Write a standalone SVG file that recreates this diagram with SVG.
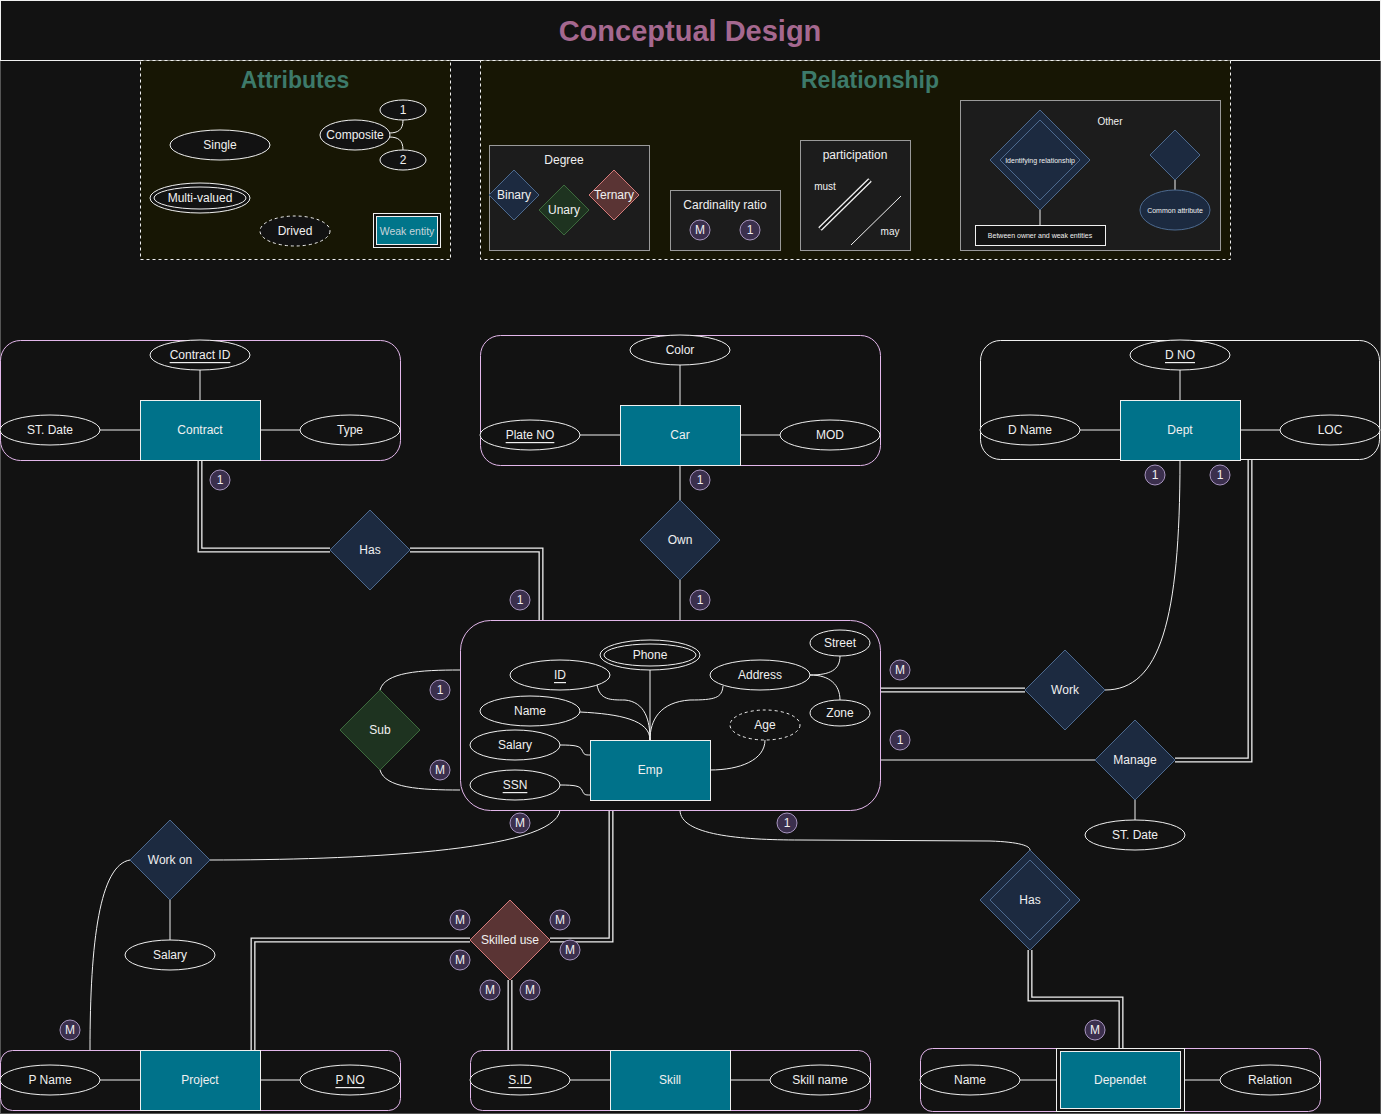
<svg xmlns="http://www.w3.org/2000/svg" width="1381" height="1114" viewBox="0 0 1381 1114">
<defs>
<style>
text{font-family:"Liberation Sans",Arial,sans-serif;font-size:12px;fill:#f0f0f0;text-anchor:middle;dominant-baseline:central}
.attr{fill:#121212;stroke:#f0f0f0;stroke-width:1}
.dash{stroke-dasharray:3 3}
.ent{fill:#00728a;stroke:#f0f0f0;stroke-width:1}
.cont{fill:none;stroke:#e2b6ea;stroke-width:1}
.rel{fill:#1c2a40;stroke:#4d6a8f;stroke-width:1}
.relg{fill:#1e3320;stroke:#3d6b3d;stroke-width:1}
.relr{fill:#5a3434;stroke:#d47a7a;stroke-width:1}
.ln{fill:none;stroke:#f0f0f0;stroke-width:1}
.dbo{fill:none;stroke:#f0f0f0;stroke-width:5}
.dbi{fill:none;stroke:#121212;stroke-width:2.4}
.badge circle{fill:#3b2f4d;stroke:#a895c0;stroke-width:1}
.u{text-decoration:underline}
.legbox{fill:#1c1c1c;stroke:#9a9a9a;stroke-width:1}
.sec{fill:#171604;stroke:#f0f0f0;stroke-width:1;stroke-dasharray:3 3}
.h2{font-size:23px;font-weight:bold;fill:#3d7a6a}
</style>
</defs>
<rect x="0" y="0" width="1381" height="1114" fill="#121212"/>
<rect x="0.5" y="0.5" width="1380" height="1113" fill="none" stroke="#555"/>
<g id="header">
<rect x="0.5" y="0.5" width="1380" height="60" fill="#121212" stroke="#f0f0f0"/>
<text x="690" y="31" style="font-size:29px;font-weight:bold;fill:#a5688f">Conceptual Design</text>
</g>

<g id="legend-attributes">
<rect class="sec" x="140.5" y="60.5" width="310" height="199"/>
<text class="h2" x="295" y="80">Attributes</text>
<ellipse class="attr" cx="220" cy="145" rx="50" ry="15"/><text x="220" y="145">Single</text>
<ellipse class="attr" cx="200" cy="198" rx="50" ry="15"/><ellipse class="attr" cx="200" cy="198" rx="46" ry="11"/><text x="200" y="198">Multi-valued</text>
<path class="ln" d="M389,133 C398,133 403,130 403,120"/>
<path class="ln" d="M389,137 C398,137 403,140 403,150"/>
<ellipse class="attr" cx="355" cy="135" rx="35" ry="15"/><text x="355" y="135">Composite</text>
<ellipse class="attr" cx="403" cy="110" rx="23" ry="10"/><text x="403" y="110">1</text>
<ellipse class="attr" cx="403" cy="160" rx="23" ry="10"/><text x="403" y="160">2</text>
<ellipse class="attr dash" cx="295" cy="231" rx="35" ry="15"/><text x="295" y="231">Drived</text>
<rect x="373.5" y="213.5" width="67" height="34" fill="#121212" stroke="#f0f0f0"/>
<rect x="376.5" y="216.5" width="61" height="28" fill="#00758a" stroke="#f0f0f0"/>
<text x="407" y="231" style="font-size:10.5px;fill:#c8d4da">Weak entity</text>
</g>

<g id="legend-relationship">
<rect class="sec" x="480.5" y="60.5" width="750" height="199"/>
<text class="h2" x="870" y="80">Relationship</text>
<rect class="legbox" x="489.5" y="145.5" width="160" height="105"/>
<text x="564" y="160">Degree</text>
<path class="rel" d="M514,170 L539,195 L514,220 L489,195 Z"/><text x="514" y="195">Binary</text>
<path class="relg" d="M564,185 L589,210 L564,235 L539,210 Z"/><text x="564" y="210">Unary</text>
<path class="relr" d="M614,170 L639,195 L614,220 L589,195 Z"/><text x="614" y="195">Ternary</text>
<rect class="legbox" x="670.5" y="190.5" width="110" height="60"/>
<text x="725" y="205">Cardinality ratio</text>
<g class="badge"><circle cx="700" cy="230" r="10"/><text x="700" y="230">M</text></g>
<g class="badge"><circle cx="750" cy="230" r="10"/><text x="750" y="230">1</text></g>
<rect class="legbox" x="800.5" y="140.5" width="110" height="110"/>
<text x="855" y="155">participation</text>
<text x="825" y="186" style="font-size:10px">must</text>
<path class="dbo" d="M820,229 L870,180"/><path class="dbi" d="M820,229 L870,180"/>
<path class="ln" d="M851,245 L901,196"/>
<text x="890" y="231" style="font-size:10px">may</text>
<rect class="legbox" x="960.5" y="100.5" width="260" height="150"/>
<text x="1110" y="121" style="font-size:10px">Other</text>
<path class="rel" d="M1040,110 L1090,160 L1040,210 L990,160 Z"/>
<path class="rel" d="M1040,120 L1080,160 L1040,200 L1000,160 Z"/>
<text x="1040" y="160" style="font-size:7px">Identifying relationship</text>
<path class="ln" d="M1040,210 V225"/>
<rect x="975.5" y="225.5" width="130" height="20" fill="#121212" stroke="#f0f0f0"/>
<text x="1040" y="235" style="font-size:7px">Between owner and weak entities</text>
<path class="rel" d="M1175,130 L1200,155 L1175,180 L1150,155 Z"/>
<path class="ln" d="M1175,180 V190"/>
<ellipse class="rel" cx="1175" cy="210" rx="35" ry="20"/>
<text x="1175" y="210" style="font-size:7px">Common attribute</text>
</g>

<g id="connectors">
<path class="dbo" d="M200,460 V550 H330"/><path class="dbi" d="M200,460 V550 H330"/>
<path class="dbo" d="M410,550 H541 V620"/><path class="dbi" d="M410,550 H541 V620"/>
<path class="ln" d="M680,465 V500 M680,580 V620"/>
<path class="ln" d="M380,690 C385,672 420,670 460,670"/>
<path class="ln" d="M380,770 C385,788 420,790 460,790"/>
<path class="dbo" d="M880,690 H1025"/><path class="dbi" d="M880,690 H1025"/>
<path class="ln" d="M1105,690 C1160,690 1180,620 1180,460"/>
<path class="ln" d="M880,760 H1095"/>
<path class="dbo" d="M1175,760 H1250 V460"/><path class="dbi" d="M1175,760 H1250 V460"/>
<path class="ln" d="M1135,800 V820"/>
<path class="ln" d="M680,810 C680,835 740,840 800,840 L990,841 C1020,842 1030,846 1030,850"/>
<path class="dbo" d="M1030,950 V999 H1121 V1048"/><path class="dbi" d="M1030,950 V999 H1121 V1048"/>
<path class="ln" d="M210,860 C350,860 555,852 560,810"/>
<path class="ln" d="M130,860 C100,865 90,940 90,1050"/>
<path class="ln" d="M170,900 V940"/>
<path class="dbo" d="M470,940 H253 V1050"/><path class="dbi" d="M470,940 H253 V1050"/>
<path class="dbo" d="M550,940 H611 V810"/><path class="dbi" d="M550,940 H611 V810"/>
<path class="dbo" d="M510,980 V1050"/><path class="dbi" d="M510,980 V1050"/>
</g>

<g id="contract">
<rect class="cont" x="0.5" y="340.5" width="400" height="120" rx="20"/>
<path class="ln" d="M200,370 V400 M100,430 H140 M260,430 H300"/>
<rect class="ent" x="140.5" y="400.5" width="120" height="60"/><text x="200" y="430">Contract</text>
<ellipse class="attr" cx="200" cy="355" rx="50" ry="15"/><text class="u" x="200" y="355">Contract ID</text>
<ellipse class="attr" cx="50" cy="430" rx="50" ry="15"/><text x="50" y="430">ST. Date</text>
<ellipse class="attr" cx="350" cy="430" rx="50" ry="15"/><text x="350" y="430">Type</text>
</g>

<g id="car">
<rect class="cont" x="480.5" y="335.5" width="400" height="130" rx="20"/>
<path class="ln" d="M680,365 V405 M580,435 H620 M740,435 H780"/>
<rect class="ent" x="620.5" y="405.5" width="120" height="60"/><text x="680" y="435">Car</text>
<ellipse class="attr" cx="680" cy="350" rx="50" ry="15"/><text x="680" y="350">Color</text>
<ellipse class="attr" cx="530" cy="435" rx="50" ry="15"/><text class="u" x="530" y="435">Plate NO</text>
<ellipse class="attr" cx="830" cy="435" rx="50" ry="15"/><text x="830" y="435">MOD</text>
</g>

<g id="dept">
<rect x="980.5" y="340.5" width="399" height="119" rx="20" fill="none" stroke="#f0f0f0"/>
<path class="ln" d="M1180,370 V400 M1080,430 H1120 M1240,430 H1280"/>
<rect class="ent" x="1120.5" y="400.5" width="120" height="60"/><text x="1180" y="430">Dept</text>
<ellipse class="attr" cx="1180" cy="355" rx="50" ry="15"/><text class="u" x="1180" y="355">D NO</text>
<ellipse class="attr" cx="1030" cy="430" rx="50" ry="15"/><text x="1030" y="430">D Name</text>
<ellipse class="attr" cx="1330" cy="430" rx="50" ry="15"/><text x="1330" y="430">LOC</text>
</g>

<g id="emp">
<rect class="cont" x="460.5" y="620.5" width="420" height="190" rx="30"/>
<path class="ln" d="M650,670 V740"/>
<path class="ln" d="M597,685 C600,700 610,700 625,700 C645,702 650,720 650,740"/>
<path class="ln" d="M580,712 C620,714 650,720 650,740"/>
<path class="ln" d="M723,686 C722,698 715,700 690,700 C660,702 650,720 650,740"/>
<path class="ln" d="M560,745 C575,745 580,746 582,750 C584,755 585,755 590,755"/>
<path class="ln" d="M560,785 C575,785 580,786 582,790 C584,795 585,795 590,795"/>
<path class="ln" d="M765,740 C765,760 740,770 710,770"/>
<path class="ln" d="M810,675 C830,675 840,670 840,656"/>
<path class="ln" d="M810,675 C830,675 840,685 840,700"/>
<rect class="ent" x="590.5" y="740.5" width="120" height="60"/><text x="650" y="770">Emp</text>
<ellipse class="attr" cx="650" cy="655" rx="50" ry="15"/><ellipse class="attr" cx="650" cy="655" rx="46" ry="11"/><text x="650" y="655">Phone</text>
<ellipse class="attr" cx="560" cy="675" rx="50" ry="15"/><text class="u" x="560" y="675">ID</text>
<ellipse class="attr" cx="530" cy="711" rx="50" ry="15"/><text x="530" y="711">Name</text>
<ellipse class="attr" cx="515" cy="745" rx="45" ry="15"/><text x="515" y="745">Salary</text>
<ellipse class="attr" cx="515" cy="785" rx="45" ry="15"/><text class="u" x="515" y="785">SSN</text>
<ellipse class="attr" cx="760" cy="675" rx="50" ry="15"/><text x="760" y="675">Address</text>
<ellipse class="attr" cx="840" cy="643" rx="30" ry="13"/><text x="840" y="643">Street</text>
<ellipse class="attr" cx="840" cy="713" rx="30" ry="13"/><text x="840" y="713">Zone</text>
<ellipse class="attr dash" cx="765" cy="725" rx="35" ry="15"/><text x="765" y="725">Age</text>
</g>

<g id="has-contract"><path class="rel" d="M370,510 L410,550 L370,590 L330,550 Z"/><text x="370" y="550">Has</text></g>
<g id="own"><path class="rel" d="M680,500 L720,540 L680,580 L640,540 Z"/><text x="680" y="540">Own</text></g>
<g id="sub"><path class="relg" d="M380,690 L420,730 L380,770 L340,730 Z"/><text x="380" y="730">Sub</text></g>
<g id="work"><path class="rel" d="M1065,650 L1105,690 L1065,730 L1025,690 Z"/><text x="1065" y="690">Work</text></g>
<g id="manage"><path class="rel" d="M1135,720 L1175,760 L1135,800 L1095,760 Z"/><text x="1135" y="760">Manage</text>
<ellipse class="attr" cx="1135" cy="835" rx="50" ry="15"/><text x="1135" y="835">ST. Date</text></g>
<g id="has-dependent">
<path class="rel" d="M1030,850 L1080,900 L1030,950 L980,900 Z"/>
<path class="rel" d="M1030,860 L1070,900 L1030,940 L990,900 Z"/>
<text x="1030" y="900">Has</text></g>
<g id="work-on"><path class="rel" d="M170,820 L210,860 L170,900 L130,860 Z"/><text x="170" y="860">Work on</text>
<ellipse class="attr" cx="170" cy="955" rx="45" ry="15"/><text x="170" y="955">Salary</text></g>
<g id="skilled-use"><path class="relr" d="M510,900 L550,940 L510,980 L470,940 Z"/><text x="510" y="940">Skilled use</text></g>

<g id="project">
<rect class="cont" x="0.5" y="1050.5" width="400" height="60" rx="12"/>
<path class="ln" d="M100,1080 H140 M260,1080 H300"/>
<rect class="ent" x="140.5" y="1050.5" width="120" height="60"/><text x="200" y="1080">Project</text>
<ellipse class="attr" cx="50" cy="1080" rx="50" ry="15"/><text x="50" y="1080">P Name</text>
<ellipse class="attr" cx="350" cy="1080" rx="50" ry="15"/><text class="u" x="350" y="1080">P NO</text>
</g>

<g id="skill">
<rect class="cont" x="470.5" y="1050.5" width="400" height="60" rx="12"/>
<path class="ln" d="M570,1080 H610 M730,1080 H770"/>
<rect class="ent" x="610.5" y="1050.5" width="120" height="60"/><text x="670" y="1080">Skill</text>
<ellipse class="attr" cx="520" cy="1080" rx="50" ry="15"/><text class="u" x="520" y="1080">S.ID</text>
<ellipse class="attr" cx="820" cy="1080" rx="50" ry="15"/><text x="820" y="1080">Skill name</text>
</g>

<g id="dependent">
<rect class="cont" x="920.5" y="1048.5" width="400" height="63" rx="12"/>
<path class="ln" d="M1020,1080 H1056 M1184,1080 H1220"/>
<rect x="1056.5" y="1048.5" width="128" height="63" fill="#121212" stroke="#f0f0f0"/>
<rect class="ent" x="1060.5" y="1051.5" width="120" height="57"/><text x="1120" y="1080">Dependet</text>
<ellipse class="attr" cx="970" cy="1080" rx="50" ry="15"/><text x="970" y="1080">Name</text>
<ellipse class="attr" cx="1270" cy="1080" rx="50" ry="15"/><text x="1270" y="1080">Relation</text>
</g>

<g id="badges" class="badge">
<circle cx="220" cy="480" r="10"/><text x="220" y="480">1</text>
<circle cx="520" cy="600" r="10"/><text x="520" y="600">1</text>
<circle cx="700" cy="480" r="10"/><text x="700" y="480">1</text>
<circle cx="700" cy="600" r="10"/><text x="700" y="600">1</text>
<circle cx="1155" cy="475" r="10"/><text x="1155" y="475">1</text>
<circle cx="1220" cy="475" r="10"/><text x="1220" y="475">1</text>
<circle cx="440" cy="690" r="10"/><text x="440" y="690">1</text>
<circle cx="440" cy="770" r="10"/><text x="440" y="770">M</text>
<circle cx="900" cy="670" r="10"/><text x="900" y="670">M</text>
<circle cx="900" cy="740" r="10"/><text x="900" y="740">1</text>
<circle cx="520" cy="823" r="10"/><text x="520" y="823">M</text>
<circle cx="787" cy="823" r="10"/><text x="787" y="823">1</text>
<circle cx="460" cy="920" r="10"/><text x="460" y="920">M</text>
<circle cx="560" cy="920" r="10"/><text x="560" y="920">M</text>
<circle cx="460" cy="960" r="10"/><text x="460" y="960">M</text>
<circle cx="570" cy="950" r="10"/><text x="570" y="950">M</text>
<circle cx="490" cy="990" r="10"/><text x="490" y="990">M</text>
<circle cx="530" cy="990" r="10"/><text x="530" y="990">M</text>
<circle cx="70" cy="1030" r="10"/><text x="70" y="1030">M</text>
<circle cx="1095" cy="1030" r="10"/><text x="1095" y="1030">M</text>
</g>
</svg>
